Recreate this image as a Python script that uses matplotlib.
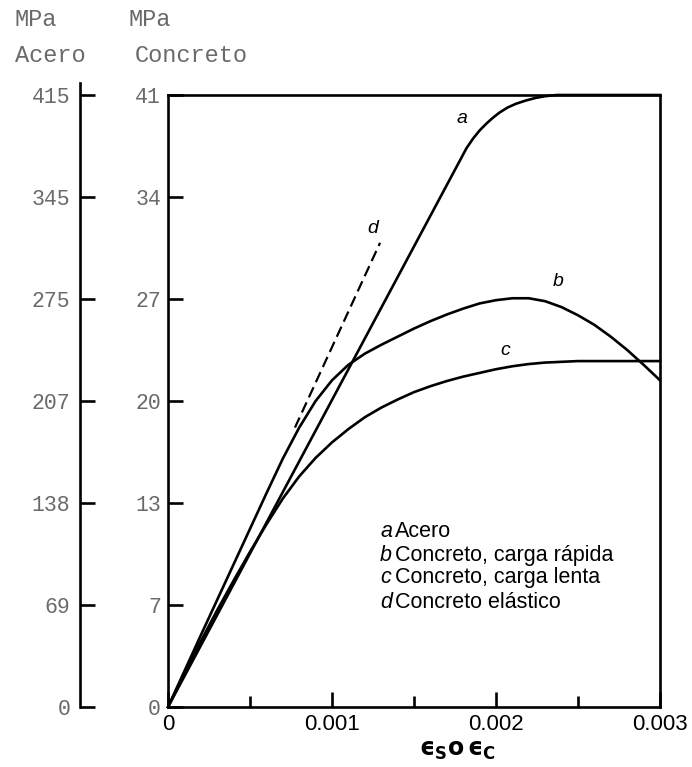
import matplotlib
matplotlib.use("Agg")
import matplotlib.pyplot as plt

# ---- data ----
strain_a = [0, 0.00182, 0.00186, 0.0019, 0.00194, 0.00198, 0.00202, 0.00207, 0.00212,
            0.00218, 0.00224, 0.0023, 0.00237, 0.003]
stress_a = [0, 37.8, 38.45, 39.0, 39.45, 39.85, 40.2, 40.55, 40.8,
            41.02, 41.2, 41.32, 41.4, 41.4]

strain_b = [0, 0.0002, 0.0004, 0.0006, 0.0007, 0.0008, 0.0009, 0.001, 0.0011, 0.0012,
            0.0013, 0.0014, 0.0015, 0.0016, 0.0017, 0.0018, 0.0019, 0.002, 0.0021,
            0.0022, 0.0023, 0.0024, 0.0025, 0.0026, 0.0027, 0.0028, 0.0029, 0.003]
stress_b = [0, 4.85, 9.65, 14.45, 16.8, 18.9, 20.7, 22.1, 23.15, 23.9,
            24.5, 25.05, 25.6, 26.1, 26.55, 26.95, 27.3, 27.52, 27.65,
            27.65, 27.45, 27.05, 26.5, 25.85, 25.05, 24.15, 23.15, 22.1]

strain_c = [0, 0.0001, 0.0002, 0.0003, 0.0004, 0.0005, 0.0006, 0.0007, 0.0008, 0.0009,
            0.001, 0.0011, 0.0012, 0.0013, 0.0014, 0.0015, 0.0016, 0.0017, 0.0018,
            0.0019, 0.002, 0.0021, 0.0022, 0.0023, 0.0024, 0.0025, 0.003]
stress_c = [0, 2.25, 4.45, 6.55, 8.55, 10.5, 12.35, 14.1, 15.6, 16.85,
            17.9, 18.8, 19.6, 20.25, 20.8, 21.3, 21.7, 22.05, 22.35,
            22.6, 22.85, 23.05, 23.2, 23.3, 23.35, 23.4, 23.4]

strain_d = [0.000774, 0.001293]
stress_d = [18.9, 31.4]

concrete_ticks = [0, 6.9, 13.8, 20.7, 27.6, 34.5, 41.4]
concrete_labels = ["0", "7", "13", "20", "27", "34", "41"]
steel_ticks = [0, 69, 138, 207, 276, 345, 414]
steel_labels = ["0", "69", "138", "207", "275", "345", "415"]
x_ticks = [0, 0.001, 0.002, 0.003]
x_labels = ["0", "0.001", "0.002", "0.003"]
x_minor = [0.0005, 0.0015, 0.0025]

curve_labels = ["a", "b", "c", "d"]
label_pos = [(0.001793, 39.8), (0.002378, 28.75), (0.002055, 24.1), (0.00125, 32.4)]
legend_text = ["Acero", "Concreto, carga rápida", "Concreto, carga lenta", "Concreto elástico"]

# ---- figure ----
W, H = 692, 767
fig = plt.figure(figsize=(W / 100, H / 100), dpi=100)

L, R, T, B = 168, 660, 95, 707
ax = fig.add_axes([L / W, 1 - B / H, (R - L) / W, (B - T) / H])

lw = 1.9
spine_lw = 1.9
gray = "#6a6a6a"
mono = "Liberation Mono"
sans = "Liberation Sans"

ax.plot(strain_a, stress_a, color="black", lw=lw, solid_joinstyle="round", clip_on=False)
ax.plot(strain_b, stress_b, color="black", lw=lw, solid_joinstyle="round")
ax.plot(strain_c, stress_c, color="black", lw=lw, solid_joinstyle="round", clip_on=False)
ax.plot(strain_d, stress_d, color="black", lw=1.6, dashes=(5, 2.5))

ax.set_xlim(0, 0.003)
ax.set_ylim(0, 41.4)

for s in ["left", "bottom", "right", "top"]:
    ax.spines[s].set_linewidth(spine_lw)

ax.set_xticks(x_ticks)
ax.set_xticklabels(x_labels, family=sans, fontsize=16)
ax.set_xticks(x_minor, minor=True)
ax.tick_params(axis="x", which="major", direction="in", length=11, width=spine_lw, pad=5)
ax.tick_params(axis="x", which="minor", direction="in", length=8, width=spine_lw)

ax.set_yticks(concrete_ticks)
ax.set_yticklabels(concrete_labels, family=mono, fontsize=15.5, color=gray)
ax.tick_params(axis="y", direction="in", length=11, width=spine_lw, pad=5)

ax.text((457 - L) / (R - L), -0.07, "$\\mathbf{ϵ}_{\\mathbf{S}}\\mathbf{o}\\,\\mathbf{ϵ}_{\\mathbf{C}}$",
        transform=ax.transAxes, ha="center", va="center", fontsize=17)

for lab, (x, y) in zip(curve_labels, label_pos):
    ax.text(x, y, lab, fontsize=14, style="italic", family=sans, ha="center", va="center")

row_y = [11.9, 10.28, 8.73, 7.10]
for lab, txt, y in zip(curve_labels, legend_text, row_y):
    ax.text(0.001293, y, lab, fontsize=15.5, style="italic", family=sans, ha="left", va="center")
    ax.text(0.001384, y, txt, fontsize=15.5, family=sans, ha="left", va="center")

# steel axis
ax2 = fig.add_axes([80 / W, 1 - B / H, 0.01, (B - T) / H])
ax2.set_ylim(0, 414)
ax2.patch.set_visible(False)
for s in ["bottom", "right", "top"]:
    ax2.spines[s].set_visible(False)
ax2.spines["left"].set_linewidth(spine_lw)
ax2.spines["left"].set_bounds(0, 422)
ax2.set_xticks([])
ax2.set_yticks(steel_ticks)
ax2.set_yticklabels(steel_labels, family=mono, fontsize=15.5, color=gray)
ax2.tick_params(axis="y", direction="in", length=11, width=spine_lw, pad=7)

# headers
fig.text(15 / W, 1 - 20 / H, "MPa", family=mono, fontsize=17, color=gray, ha="left", va="center")
fig.text(15 / W, 1 - 55 / H, "Acero", family=mono, fontsize=17, color=gray, ha="left", va="center")
fig.text(128 / W, 1 - 20 / H, "MPa", family=mono, fontsize=17, color=gray, ha="left", va="center")
fig.text(135 / W, 1 - 55 / H, "Concreto", family=mono, fontsize=17, color=gray, ha="left", va="center")

fig.savefig("out.png", dpi=100)
